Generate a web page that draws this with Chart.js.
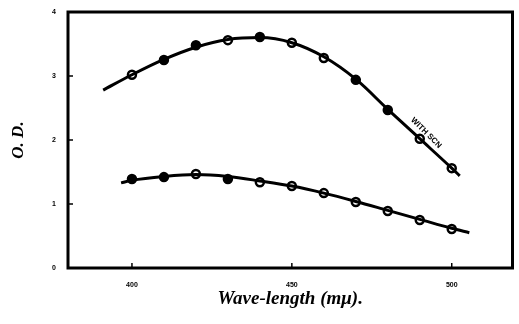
<!DOCTYPE html>
<html>
<head>
<meta charset="utf-8">
<script src="https://cdn.jsdelivr.net/npm/chart.js@4"></script>
<style>
  html, body { margin: 0; padding: 0; background: #fff; }
  #wrap { width: 519px; height: 324px; }
</style>
</head>
<body>
<div id="wrap"><canvas id="odChart"></canvas></div>
<script>
// measured points (wave-length in mμ, optical density)
const wavelengths = [400, 410, 420, 430, 440, 450, 460, 470, 480, 490, 500];
const upperOD = [3.02, 3.25, 3.48, 3.56, 3.61, 3.52, 3.28, 2.94, 2.47, 2.02, 1.56];
const lowerOD = [1.39, 1.42, 1.47, 1.39, 1.34, 1.28, 1.17, 1.03, 0.89, 0.75, 0.61];

// drawn curves
const upperCurveX = [391, 400, 410, 420, 430, 440, 450, 460, 470, 480, 490, 500, 502.5];
const upperCurveY = [2.78, 3.02, 3.26, 3.45, 3.57, 3.60, 3.52, 3.30, 2.95, 2.48, 2.02, 1.56, 1.44];
const lowerCurveX = [396.6, 400, 410, 420, 430, 440, 450, 460, 470, 480, 490, 500, 505.5];
const lowerCurveY = [1.33, 1.37, 1.43, 1.46, 1.43, 1.36, 1.28, 1.17, 1.04, 0.90, 0.76, 0.62, 0.55];

const xTicks = [400, 450, 500];
const yTicks = [0, 1, 2, 3, 4];
const curveLabel = 'WITH SCN';
const curveLabelAt = { x: 492, y: 2.11 };

const toPts = (xs, ys) => xs.map((x, i) => ({ x, y: ys[i] }));

const upperFill = ['#fff', '#000', '#000', '#fff', '#000', '#fff', '#fff', '#000', '#000', '#fff', '#fff'];
const lowerFill = ['#000', '#000', '#fff', '#000', '#fff', '#fff', '#fff', '#fff', '#fff', '#fff', '#fff'];

const framePlugin = {
  id: 'frame',
  afterDraw(chart) {
    const { ctx, chartArea: a, scales } = chart;
    ctx.save();
    ctx.strokeStyle = '#000';
    ctx.lineWidth = 3;
    ctx.strokeRect(a.left, a.top, a.right - a.left, a.bottom - a.top);
    ctx.lineWidth = 1.5;
    xTicks.forEach(v => {
      const px = scales.x.getPixelForValue(v);
      ctx.beginPath();
      ctx.moveTo(px, a.bottom);
      ctx.lineTo(px, a.bottom - 5);
      ctx.stroke();
    });
    yTicks.forEach(v => {
      const py = scales.y.getPixelForValue(v);
      ctx.beginPath();
      ctx.moveTo(a.left, py);
      ctx.lineTo(a.left + 5, py);
      ctx.stroke();
    });
    // label along the upper curve
    const lx = scales.x.getPixelForValue(curveLabelAt.x);
    const ly = scales.y.getPixelForValue(curveLabelAt.y);
    ctx.translate(lx, ly);
    ctx.rotate(Math.PI / 4);
    ctx.fillStyle = '#000';
    ctx.font = 'bold 8px "Liberation Sans"';
    ctx.textAlign = 'center';
    ctx.textBaseline = 'middle';
    ctx.fillText(curveLabel, 0, 0);
    ctx.restore();
  }
};

new Chart(document.getElementById('odChart'), {
  type: 'scatter',
  data: {
    datasets: [
      {
        data: toPts(upperCurveX, upperCurveY),
        showLine: true,
        borderColor: '#000',
        borderWidth: 3,
        pointRadius: 0,
        cubicInterpolationMode: 'monotone'
      },
      {
        data: toPts(lowerCurveX, lowerCurveY),
        showLine: true,
        borderColor: '#000',
        borderWidth: 3,
        pointRadius: 0,
        cubicInterpolationMode: 'monotone'
      },
      {
        data: toPts(wavelengths, upperOD),
        pointRadius: 4,
        pointBorderWidth: 2.5,
        pointBorderColor: '#000',
        pointBackgroundColor: upperFill
      },
      {
        data: toPts(wavelengths, lowerOD),
        pointRadius: 4,
        pointBorderWidth: 2.5,
        pointBorderColor: '#000',
        pointBackgroundColor: lowerFill
      }
    ]
  },
  options: {
    responsive: true,
    maintainAspectRatio: false,
    animation: false,
    layout: { padding: { left: 8, top: 12, right: 2, bottom: 14 } },
    plugins: { legend: { display: false }, tooltip: { enabled: false } },
    scales: {
      x: {
        type: 'linear',
        min: 380,
        max: 519,
        afterBuildTicks: s => { s.ticks = xTicks.map(v => ({ value: v })); },
        afterFit: s => { s.height = 42; },
        grid: { display: false },
        border: { display: false },
        ticks: { color: '#000', font: { size: 7, weight: 'bold' }, padding: 5, maxRotation: 0 },
        title: {
          display: true,
          text: 'Wave-length (mμ).',
          color: '#000',
          font: { family: '"Liberation Serif"', size: 19, style: 'italic', weight: 'bold' },
          padding: { top: 4, bottom: 0 }
        }
      },
      y: {
        min: 0,
        max: 4,
        afterBuildTicks: s => { s.ticks = yTicks.map(v => ({ value: v })); },
        afterFit: s => { s.width = 60; },
        grid: { display: false },
        border: { display: false },
        ticks: { color: '#000', font: { size: 7, weight: 'bold' }, padding: 4 },
        title: {
          display: true,
          text: 'O. D.',
          color: '#000',
          font: { family: '"Liberation Serif"', size: 17, style: 'italic', weight: 'bold' },
          padding: { top: 0, bottom: 0 }
        }
      }
    }
  },
  plugins: [framePlugin]
});
</script>
</body>
</html>
